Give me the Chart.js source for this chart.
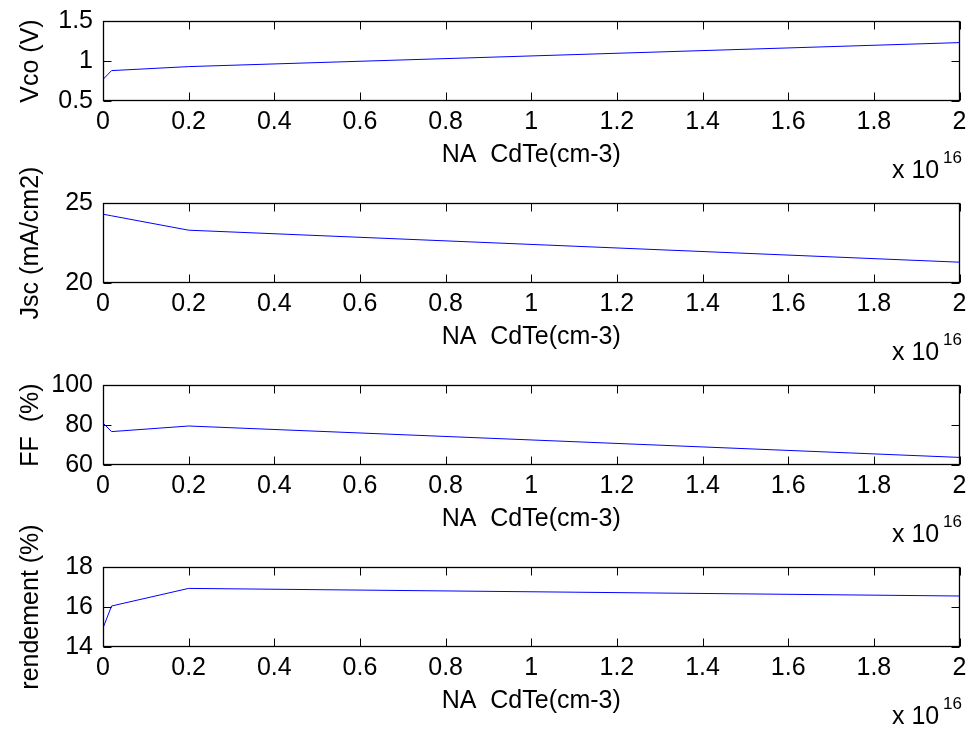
<!DOCTYPE html>
<html>
<head>
<meta charset="utf-8">
<script src="https://cdn.jsdelivr.net/npm/chart.js@4/dist/chart.umd.min.js"></script>
<style>
  html, body { margin: 0; padding: 0; background: #fff; }
  #page { position: relative; width: 977px; height: 729px; overflow: hidden; }
  #page canvas { position: absolute; left: 0; }
</style>
</head>
<body>
<div id="page">
  <canvas id="c0" width="977" height="300"></canvas>
  <canvas id="c1" width="977" height="300"></canvas>
  <canvas id="c2" width="977" height="300"></canvas>
  <canvas id="c3" width="977" height="300"></canvas>
</div>
<script>
// Dopage NA du CdTe (x 1e16 cm-3)
const naCdTe = [0, 0.02, 0.2, 2];

// Paramètres de la cellule
const vco = [0.77, 0.88, 0.93, 1.23];
const jsc = [24.3, 24.2, 23.3, 21.3];
const ff = [81.0, 76.7, 79.5, 63.8];
const rendement = [14.95, 16.05, 16.93, 16.55];

const series = [vco, jsc, ff, rendement];
const yTitres = ['Vco (V)', 'Jsc (mA/cm2)', 'FF  (%)', 'rendement (%)'];
const yMin = [0.5, 20, 60, 14];
const yMax = [1.5, 25, 100, 18];
const yPas = [0.5, 5, 20, 2];

const xMin = 0, xMax = 2, xPas = 0.2;
const xTitre = 'NA  CdTe(cm-3)';

// haut de chaque zone de tracé ; les canvas se chevauchent (fond transparent)
const hautsAxes = [20.7, 203.3, 385, 567.3];
const marge = 80;

const police = 'Arial, "Liberation Sans", Helvetica, sans-serif';

// cadre + graduations vers l'intérieur, style matlab
const cadrePlugin = {
    id: 'cadre',
    afterDraw(chart) {
        const ctx = chart.ctx;
        const a = chart.chartArea;
        const sx = chart.scales.x;
        const sy = chart.scales.y;
        const L = Math.round(a.left) + 0.5, R = Math.round(a.right) - 0.5;
        const T = Math.round(a.top) + 0.5, B = Math.round(a.bottom) - 0.5;
        const lg = 8;
        ctx.save();
        ctx.strokeStyle = '#000';
        ctx.lineWidth = 1;
        ctx.beginPath();
        sx.ticks.forEach(t => {
            const px = Math.round(sx.getPixelForValue(t.value)) + 0.5;
            ctx.moveTo(px, B); ctx.lineTo(px, B - lg);
            ctx.moveTo(px, T); ctx.lineTo(px, T + lg);
        });
        sy.ticks.forEach(t => {
            const py = Math.round(sy.getPixelForValue(t.value)) + 0.5;
            ctx.moveTo(L, py); ctx.lineTo(L + lg, py);
            ctx.moveTo(R, py); ctx.lineTo(R - lg, py);
        });
        ctx.stroke();
        ctx.lineWidth = 1.3;
        ctx.strokeRect(L, T, R - L, B - T);

        // facteur d'échelle de l'axe x
        ctx.fillStyle = '#000';
        ctx.textBaseline = 'alphabetic';
        ctx.textAlign = 'left';
        ctx.font = '25px ' + police;
        ctx.fillText('x 10', 892, B + 77);
        ctx.font = '17px ' + police;
        ctx.fillText('16', 943, B + 62);
        ctx.restore();
    }
};

function creerGraphe(i) {
    const canvas = document.getElementById('c' + i);
    canvas.style.top = (hautsAxes[i] - marge) + 'px';
    const points = naCdTe.map((x, k) => ({ x: x, y: series[i][k] }));

    return new Chart(canvas.getContext('2d'), {
        type: 'line',
        data: {
            datasets: [{
                data: points,
                borderColor: '#0000ff',
                borderWidth: 1,
                pointRadius: 0,
                tension: 0,
                fill: false
            }]
        },
        options: {
            responsive: false,
            animation: false,
            devicePixelRatio: 1,
            // 300 = 80 (haut) + 80 (tracé) + 82 (axe x) + 58
            layout: { padding: { top: marge, left: 0, right: 17.5, bottom: 58 } },
            plugins: {
                legend: { display: false },
                tooltip: { enabled: false }
            },
            scales: {
                x: {
                    type: 'linear',
                    min: xMin,
                    max: xMax,
                    grid: { display: false, drawTicks: false },
                    border: { display: false },
                    ticks: {
                        stepSize: xPas,
                        color: '#000',
                        padding: 6,
                        maxRotation: 0,
                        autoSkip: false,
                        font: { family: police, size: 25 },
                        callback: v => String(Number(v.toFixed(1)))
                    },
                    title: {
                        display: true,
                        text: xTitre,
                        color: '#000',
                        padding: { top: 0, bottom: 13 },
                        font: { family: police, size: 25 }
                    },
                    afterFit: s => { s.height = 82; }
                },
                y: {
                    min: yMin[i],
                    max: yMax[i],
                    grid: { display: false, drawTicks: false },
                    border: { display: false },
                    ticks: {
                        stepSize: yPas[i],
                        color: '#000',
                        padding: 10,
                        font: { family: police, size: 25 },
                        callback: v => String(Number(v.toFixed(2)))
                    },
                    title: {
                        display: true,
                        text: yTitres[i],
                        color: '#000',
                        padding: { top: 16, bottom: 0 },
                        font: { family: police, size: 25 }
                    },
                    afterFit: s => { s.width = 103; }
                }
            }
        },
        plugins: [cadrePlugin]
    });
}

series.forEach((s, i) => creerGraphe(i));
</script>
</body>
</html>
